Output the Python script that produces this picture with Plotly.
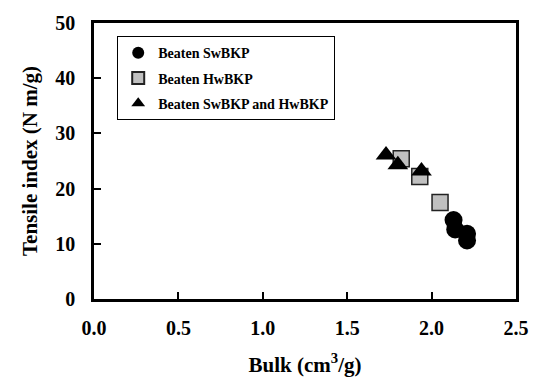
import plotly.graph_objects as go

sw_bulk = [2.13, 2.14, 2.21, 2.21]
sw_tensile = [14.3, 12.6, 11.8, 10.6]
hw_bulk = [1.82, 1.93, 2.05]
hw_tensile = [25.4, 22.2, 17.5]
mix_bulk = [1.73, 1.80, 1.94]
mix_tensile = [26.1, 24.3, 23.2]
names = ["Beaten SwBKP", "Beaten HwBKP", "Beaten SwBKP and HwBKP"]
x_ticks = [0.0, 0.5, 1.0, 1.5, 2.0, 2.5]
y_ticks = [0, 10, 20, 30, 40, 50]

FONT = "Liberation Serif, Times New Roman, serif"

fig = go.Figure()
fig.add_trace(go.Scatter(x=sw_bulk, y=sw_tensile, mode="markers", name="<b>" + names[0] + "</b>",
                         legendgroup="a",
                         marker=dict(symbol="circle", size=18, color="black",
                                     line=dict(color="black", width=0))))
fig.add_trace(go.Scatter(x=hw_bulk, y=hw_tensile, mode="markers", name="<b>" + names[1] + "</b>",
                         legendgroup="b",
                         marker=dict(symbol="square", size=16, color="#c0c0c0",
                                     line=dict(color="#222222", width=1.5))))
fig.add_trace(go.Scatter(x=mix_bulk, y=mix_tensile, mode="markers", name="<b>" + names[2] + "</b>",
                         legendgroup="c",
                         marker=dict(symbol="triangle-up", size=18, color="black",
                                     line=dict(color="black", width=0))))

axis_common = dict(showline=True, linecolor="black", linewidth=2.5, mirror=True,
                   ticks="inside", ticklen=7, tickwidth=2, tickcolor="black",
                   showgrid=False, zeroline=False,
                   tickfont=dict(family=FONT, size=20, color="black"))

fig.update_layout(
    width=541, height=385,
    margin=dict(l=94, r=14, t=15, b=85),
    plot_bgcolor="white", paper_bgcolor="white",
    font=dict(family=FONT, size=20, color="black"),
    xaxis=dict(range=[0, 2.5], tickvals=x_ticks,
               ticktext=[f"<b>{v:.1f}</b>" for v in x_ticks],
               ticklabelstandoff=9,
               title=dict(text="<b>Bulk (cm<sup>3</sup>/g)</b>", standoff=20,
                          font=dict(family=FONT, size=21, color="black")),
               **axis_common),
    yaxis=dict(range=[0, 50], tickvals=y_ticks,
               ticktext=[f"<b>{v}</b>" for v in y_ticks],
               ticklabelstandoff=12,
               title=dict(text="<b>Tensile index (N m/g)</b>", standoff=12,
                          font=dict(family=FONT, size=21, color="black")),
               **axis_common),
    legend=dict(x=0.055, y=0.952, xanchor="left", yanchor="top",
                bgcolor="white", bordercolor="black", borderwidth=1,
                itemsizing="constant", tracegroupgap=4, itemwidth=30,
                font=dict(family=FONT, size=14, color="black")),
)

fig.write_html("out.html")
